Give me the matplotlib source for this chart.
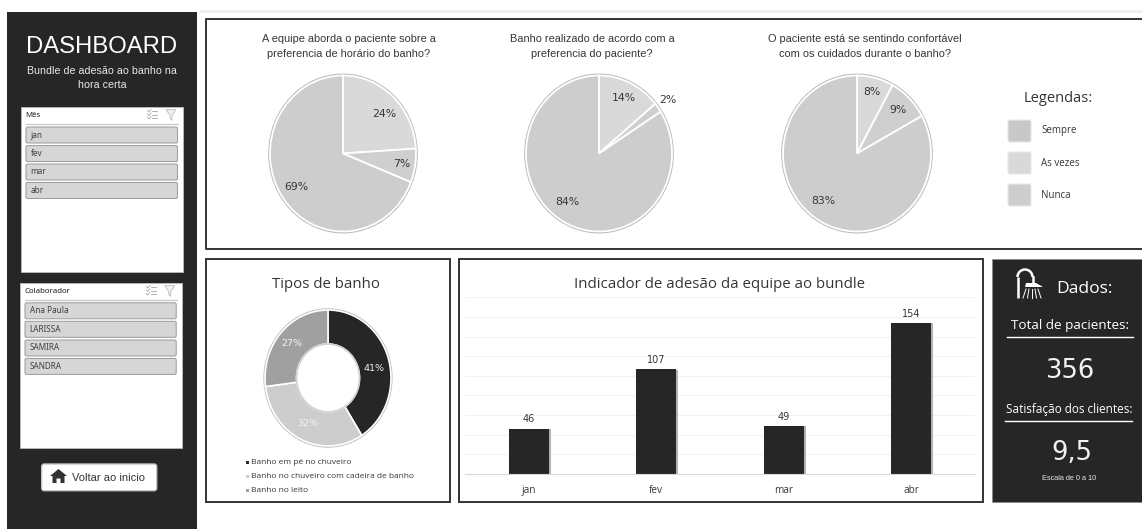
import numpy as np
import matplotlib
matplotlib.use("Agg")
import matplotlib.pyplot as plt
import matplotlib.patheffects as pe
from matplotlib.patches import Rectangle, FancyBboxPatch, Circle, Polygon, Arc

W, H = 1142, 529

# dados
pie_titles = [
    "A equipe aborda o paciente sobre a\npreferencia de horário do banho?",
    "Banho realizado de acordo com a\npreferencia do paciente?",
    "O paciente está se sentindo confortável\ncom os cuidados durante o banho?",
]
pie_values = [[24, 7, 69], [14, 2, 84], [8, 9, 83]]
legend_names = ["Sempre", "As vezes", "Nunca"]

tipos_names = ["Banho em pé no chuveiro", "Banho no chuveiro com cadeira de banho", "Banho no leito"]
tipos_values = [41, 32, 27]

meses = ["jan", "fev", "mar", "abr"]
adesao = [46, 107, 49, 154]
colaboradores = ["Ana Paula", "LARISSA", "SAMIRA", "SANDRA"]

total_pacientes = "356"
satisfacao = "9,5"

# estilo
DARK = "#262626"
TEXT = "#363636"
PIE_COLORS = ["#d9d9d9", "#cfcfcf", "#cdcdcd"]
TIPOS_COLORS = [DARK, "#cdcdcd", "#a0a0a0"]
SANS = "Liberation Sans"
OPEN = "Open Sans"
DJ = "DejaVu Sans"

fig = plt.figure(figsize=(W / 100, H / 100), dpi=100, facecolor="white")


def px_axes(x0, y0, x1, y1, **kw):
    return fig.add_axes([x0 / W, 1 - y1 / H, (x1 - x0) / W, (y1 - y0) / H], **kw)


bg = px_axes(0, 0, W, H)
bg.set_xlim(0, W)
bg.set_ylim(H, 0)
bg.axis("off")


def box(x0, y0, x1, y1, **kw):
    bg.add_patch(Rectangle((x0, y0), x1 - x0, y1 - y0, **kw))


def rounded(x0, y0, x1, y1, r=1.5, **kw):
    bg.add_patch(FancyBboxPatch((x0 + r, y0 + r), x1 - x0 - 2 * r, y1 - y0 - 2 * r,
                                boxstyle=f"round,pad={r},rounding_size={r}", **kw))


def txt(x, y, s, size, color=TEXT, family=SANS, ha="center", **kw):
    bg.text(x, y, s, fontsize=size, color=color, family=family, ha=ha, va="center", **kw)


# =========================
# Barra lateral
# =========================
box(7.3, 12, 196.7, H, fc=DARK, ec="none")
txt(102, 47, "DASHBOARD", 17.2, color="white")
txt(102, 71.5, "Bundle de adesão ao banho na", 7.7, color="#e8e8e8")
txt(102, 85.5, "hora certa", 7.7, color="#e8e8e8")


def slicer(x0, y0, x1, y1, title, items, btn_tops):
    box(x0, y0, x1, y1, fc="white", ec="#bdbdbd", lw=0.6)
    txt(x0 + 5, y0 + 9, title, 5.7, color="#1c1c1c", family="Noto Sans", ha="left", fontweight="bold")
    bg.plot([x0 + 5, x1 - 5], [y0 + 17.5, y0 + 17.5], color="#c8c8c8", lw=0.9)
    # icones do filtro
    ix = x1 - 36
    for k in range(3):
        bg.plot([ix + 5, ix + 10], [y0 + 4.5 + 3.5 * k] * 2, color="#a5a5a5", lw=0.6)
        bg.plot([ix + 0.5, ix + 2, ix + 4], [y0 + 4 + 3.5 * k, y0 + 5.5 + 3.5 * k, y0 + 3 + 3.5 * k],
                color="#a5a5a5", lw=0.6)
    fx = x1 - 17
    bg.add_patch(Polygon([(fx, y0 + 3), (fx + 10, y0 + 3), (fx + 6, y0 + 9), (fx + 6, y0 + 14), (fx + 4, y0 + 12),
                          (fx + 4, y0 + 9)], closed=True, fc="#f0f0f0", ec="#bdbdbd", lw=0.6))
    for name, top in zip(items, btn_tops):
        rounded(x0 + 5.5, top, x1 - 5.5, top + 16, fc="#d6d6d6", ec="#9a9a9a", lw=0.7)
        txt(x0 + 10, top + 8, name, 5.9, color="#404040", family="Noto Sans", ha="left")


slicer(20.5, 106.5, 183, 272, "Mês", meses, [127, 145.6, 164, 182.5])
slicer(19.5, 282.5, 181.7, 448, "Colaborador", colaboradores, [302.8, 321.3, 340, 358.4])

rounded(41.7, 464, 156.7, 490.7, r=2.5, fc="white", ec="#c4c4c4", lw=1.0)
# casinha
bg.add_patch(Polygon([(50, 476), (58.5, 469), (67, 476), (64.5, 476), (64.5, 483), (60.5, 483), (60.5, 478.5),
                      (56.5, 478.5), (56.5, 483), (52.5, 483), (52.5, 476)], closed=True, fc="#333333", ec="none"))
txt(72, 478, "Voltar ao inicio", 8, ha="left")

# =========================
# Painel superior
# =========================
box(200, 10, W, 13, fc="#f0f0f0", ec="none")
bg.plot([W + 5, 205.5, 205.5, W + 5], [18.5, 18.5, 248.5, 248.5], color="#333333", lw=1.4)

pie_cx = [343, 599, 857]
pie_rx = [73, 73, 74]
title_cx = [349, 592, 865]
label_dist = [[0.76, 0.82, 0.77], [0.79, 1.16, 0.76], [0.82, 0.79, 0.76]]
label_nudge = [[-5, 0, 0], [0, 0, -6], [0, 0, -6]]


def draw_pie(cx, cy, rx, ry, values, colors, dists, nudges, label_color, label_size, width=None, lw=1.3):
    m = 1.1
    ax = px_axes(cx - rx * m, cy - ry * m, cx + rx * m, cy + ry * m)
    ax.patch.set_alpha(0)
    wp = dict(edgecolor="white", linewidth=lw)
    if width:
        wp["width"] = width
    wedges, _ = ax.pie(values, colors=colors, startangle=90, counterclock=False, wedgeprops=wp)
    ax.add_patch(Circle((0, 0), 1.025, fc="#bcbcbc", ec="none", zorder=0))
    if width:
        ax.add_patch(Circle((0, 0), 1 - width, fc="white", ec="#d0d0d0", lw=1.2, zorder=2))
    ax.set_aspect("auto")
    ax.set_xlim(-m, m)
    ax.set_ylim(-m, m)
    for w, v, d, n in zip(wedges, values, dists, nudges):
        a = np.deg2rad((w.theta1 + w.theta2) / 2 + n)
        ax.text(d * np.cos(a), d * np.sin(a), f"{v}%", ha="center", va="center", fontsize=label_size,
                color=label_color, family=DJ, zorder=5, clip_on=False)
    return ax


for i in range(3):
    draw_pie(pie_cx[i], 153.5, pie_rx[i], 78, pie_values[i], PIE_COLORS, label_dist[i], label_nudge[i], TEXT, 7.8)
    a, b = pie_titles[i].split("\n")
    txt(title_cx[i], 39, a, 7.9)
    txt(title_cx[i], 54, b, 7.9)

txt(1058, 98, "Legendas:", 10.5, family=OPEN)
legend_colors = ["#c8c8c8", "#d9d9d9", "#cdcdcd"]
for name, c, top in zip(legend_names, legend_colors, [120, 152, 184]):
    rounded(1008, top, 1031, top + 22, r=2, fc=c, ec="#e8e8e8", lw=0.8)
    txt(1041, top + 11, name, 7, ha="left", family=OPEN)

# =========================
# Tipos de banho
# =========================
box(205.5, 259, 450, 502, fc="white", ec="#333333", lw=1.4)
txt(326, 285, "Tipos de banho", 10.8, family=OPEN)
draw_pie(328, 378, 63, 68, tipos_values, TIPOS_COLORS, [0.74, 0.74, 0.76], [-5, 0, 0], "#f2f2f2", 6.8, width=0.5, lw=1.2)
for name, c, y in zip(tipos_names, TIPOS_COLORS, [462, 476, 490]):
    box(245.5, y - 1.5, 248.5, y + 1.5, fc=c, ec="none")
    txt(251, y, name, 6, ha="left", family=OPEN)

# =========================
# Indicador de adesao
# =========================
box(458.5, 259, 982.5, 502, fc="white", ec="#333333", lw=1.4)
txt(719.5, 285, "Indicador de adesão da equipe ao bundle", 10.8, family=OPEN)

ax = px_axes(465, 297.3, 975, 473.7)
ax.patch.set_alpha(0)
bars = ax.bar(range(len(meses)), adesao, width=0.31, color=DARK,
              path_effects=[pe.SimplePatchShadow(offset=(1.5, -0.5), shadow_rgbFace="#808080", alpha=0.6), pe.Normal()])
ax.set_xlim(-0.5, 3.5)
ax.set_ylim(0, 180)
ax.set_yticks(np.arange(0, 181, 20))
ax.set_yticklabels([])
ax.set_xticks(range(len(meses)))
ax.set_xticklabels(meses, fontsize=7.2, color=TEXT, family=OPEN)
ax.tick_params(length=0, pad=8)
ax.grid(axis="y", color="#f2f2f2", lw=0.8)
ax.set_axisbelow(True)
for s in ["top", "left", "right"]:
    ax.spines[s].set_visible(False)
ax.spines["bottom"].set_color("#d9d9d9")
ax.bar_label(bars, fontsize=7, color=TEXT, family=DJ, padding=3)

# =========================
# Dados
# =========================
box(991.7, 259, W + 2, 502, fc=DARK, ec="#8a8a8a", lw=0.5)
# chuveiro
bg.plot([1017.5, 1017.5], [298, 277], color="white", lw=1.8, solid_capstyle="butt")
bg.add_patch(Arc((1025, 277), 15, 15, theta1=180, theta2=360, color="white", lw=1.8))
bg.add_patch(Polygon([(1026, 283), (1036, 283), (1043, 287), (1025, 287)], closed=True, fc="white", ec="none"))
bg.plot([1032.5, 1032.5], [277, 283], color="white", lw=1.8)
for x0, x1 in [(1026, 1023), (1029, 1027.5), (1032, 1032), (1035, 1036.5), (1038, 1041)]:
    bg.plot([x0, x1], [289, 298], color="white", lw=0.7)

txt(1084, 289, "Dados:", 12.6, color="white", family=OPEN)
txt(1070, 325, "Total de pacientes:", 9.7, color="white", family=OPEN)
bg.plot([1007, 1133], [336.7, 336.7], color="white", lw=1)
txt(1070, 371, total_pacientes, 18.6, color="#f2f2f2", family=DJ)
txt(1069, 410, "Satisfação dos clientes:", 8.5, color="white", family=OPEN)
bg.plot([1005, 1132], [420.7, 420.7], color="white", lw=1)
txt(1072, 452.7, satisfacao, 18.6, color="#f2f2f2", family=DJ)
txt(1069, 479, "Escala de 0 a 10", 5.3, color="#e8e8e8")

fig.savefig("out.png", dpi=100)
